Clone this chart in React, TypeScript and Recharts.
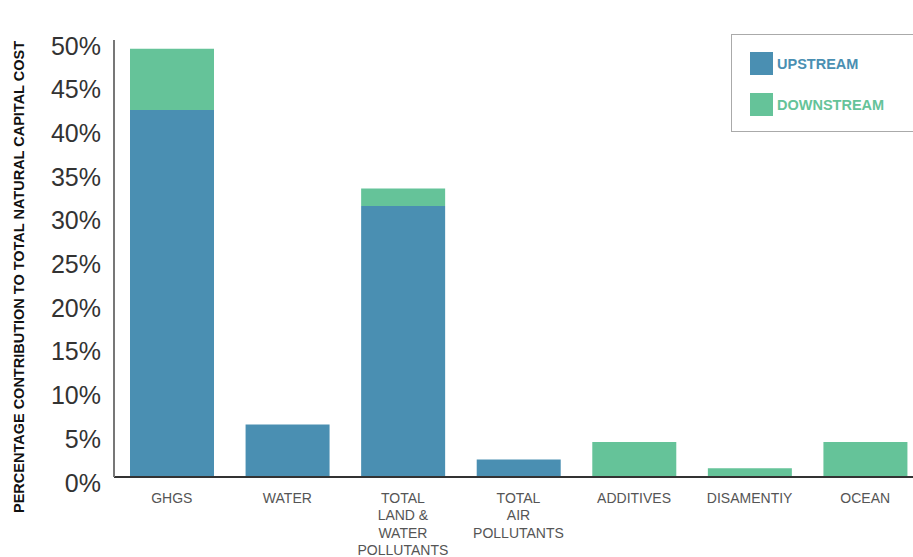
import React from "react";
import { BarChart, Bar, XAxis, YAxis, Label } from "recharts";

const categories = [
  "GHGS",
  "WATER",
  "TOTAL\nLAND &\nWATER\nPOLLUTANTS",
  "TOTAL\nAIR\nPOLLUTANTS",
  "ADDITIVES",
  "DISAMENTIY",
  "OCEAN",
];
const upstream = [42, 6, 31, 2, 0, 0, 0];
const downstream = [7, 0, 2, 0, 4, 1, 4];
const yTicks = [0, 5, 10, 15, 20, 25, 30, 35, 40, 45, 50];
const seriesNames = ["UPSTREAM", "DOWNSTREAM"];

const BLUE = "#4A8FB2";
const GREEN = "#65C399";
const FONT = "'Liberation Sans', Arial, Helvetica, sans-serif";

const data = categories.map((c, i) => ({
  name: c,
  upstream: upstream[i],
  downstream: downstream[i],
}));

const YTick = (props: any) => {
  const { x, y, payload } = props;
  return (
    <text
      x={x}
      y={y + 5.5}
      textAnchor="end"
      dominantBaseline="central"
      fontSize={25}
      fontFamily={FONT}
      fill="#333"
    >
      {`${payload.value}%`}
    </text>
  );
};

const XTick = (props: any) => {
  const { x, y, payload } = props;
  const lines = String(payload.value).split("\n");
  return (
    <g>
      {lines.map((l, i) => (
        <text
          key={i}
          x={x}
          y={y + 21 + i * 17.4}
          textAnchor="middle"
          dominantBaseline="central"
          fontSize={14}
          fontFamily={FONT}
          fill="#555"
        >
          {l}
        </text>
      ))}
    </g>
  );
};

const YTitle = () => (
  <text
    x={19}
    y={277}
    transform="rotate(-90 19 277)"
    textAnchor="middle"
    dominantBaseline="central"
    fontSize={14.5}
    fontWeight="bold"
    fontFamily={FONT}
    fill="#111"
  >
    PERCENTAGE CONTRIBUTION TO TOTAL NATURAL CAPITAL COST
  </text>
);

const LegendBox = () => (
  <div
    style={{
      position: "absolute",
      left: 731,
      top: 34,
      width: 200,
      height: 98,
      border: "1px solid #aaa",
      boxSizing: "border-box",
      fontFamily: FONT,
      fontWeight: "bold",
      fontSize: 14.5,
    }}
  >
    {seriesNames.map((n, i) => (
      <div
        key={n}
        style={{
          position: "absolute",
          left: 18,
          top: 17 + i * 41,
          display: "flex",
          alignItems: "center",
        }}
      >
        <div style={{ width: 23, height: 23, background: i === 0 ? BLUE : GREEN }} />
        <span style={{ color: i === 0 ? BLUE : GREEN, marginLeft: 4 }}>{n}</span>
      </div>
    ))}
  </div>
);

export default function App() {
  return (
    <div
      style={{
        position: "absolute",
        left: 0,
        top: 0,
        width: 913,
        height: 557,
        overflow: "hidden",
        background: "#fff",
      }}
    >
      <BarChart
        width={930}
        height={557}
        data={data}
        margin={{ top: 40, right: 7, left: 0, bottom: 0 }}
      >
        <XAxis
          dataKey="name"
          height={80}
          interval={0}
          tick={<XTick />}
          tickLine={false}
          tickSize={0}
          tickMargin={0}
          axisLine={{ stroke: "#333", strokeWidth: 2 }}
        />
        <YAxis
          width={114}
          domain={[0, 50]}
          ticks={yTicks}
          tick={<YTick />}
          tickLine={false}
          tickSize={0}
          tickMargin={13}
          axisLine={{ stroke: "#777", strokeWidth: 2 }}
        >
          <Label content={<YTitle />} />
        </YAxis>
        <Bar dataKey="upstream" name={seriesNames[0]} stackId="a" fill={BLUE} barSize={84} isAnimationActive={false} />
        <Bar dataKey="downstream" name={seriesNames[1]} stackId="a" fill={GREEN} barSize={84} isAnimationActive={false} />
      </BarChart>
      <LegendBox />
    </div>
  );
}
